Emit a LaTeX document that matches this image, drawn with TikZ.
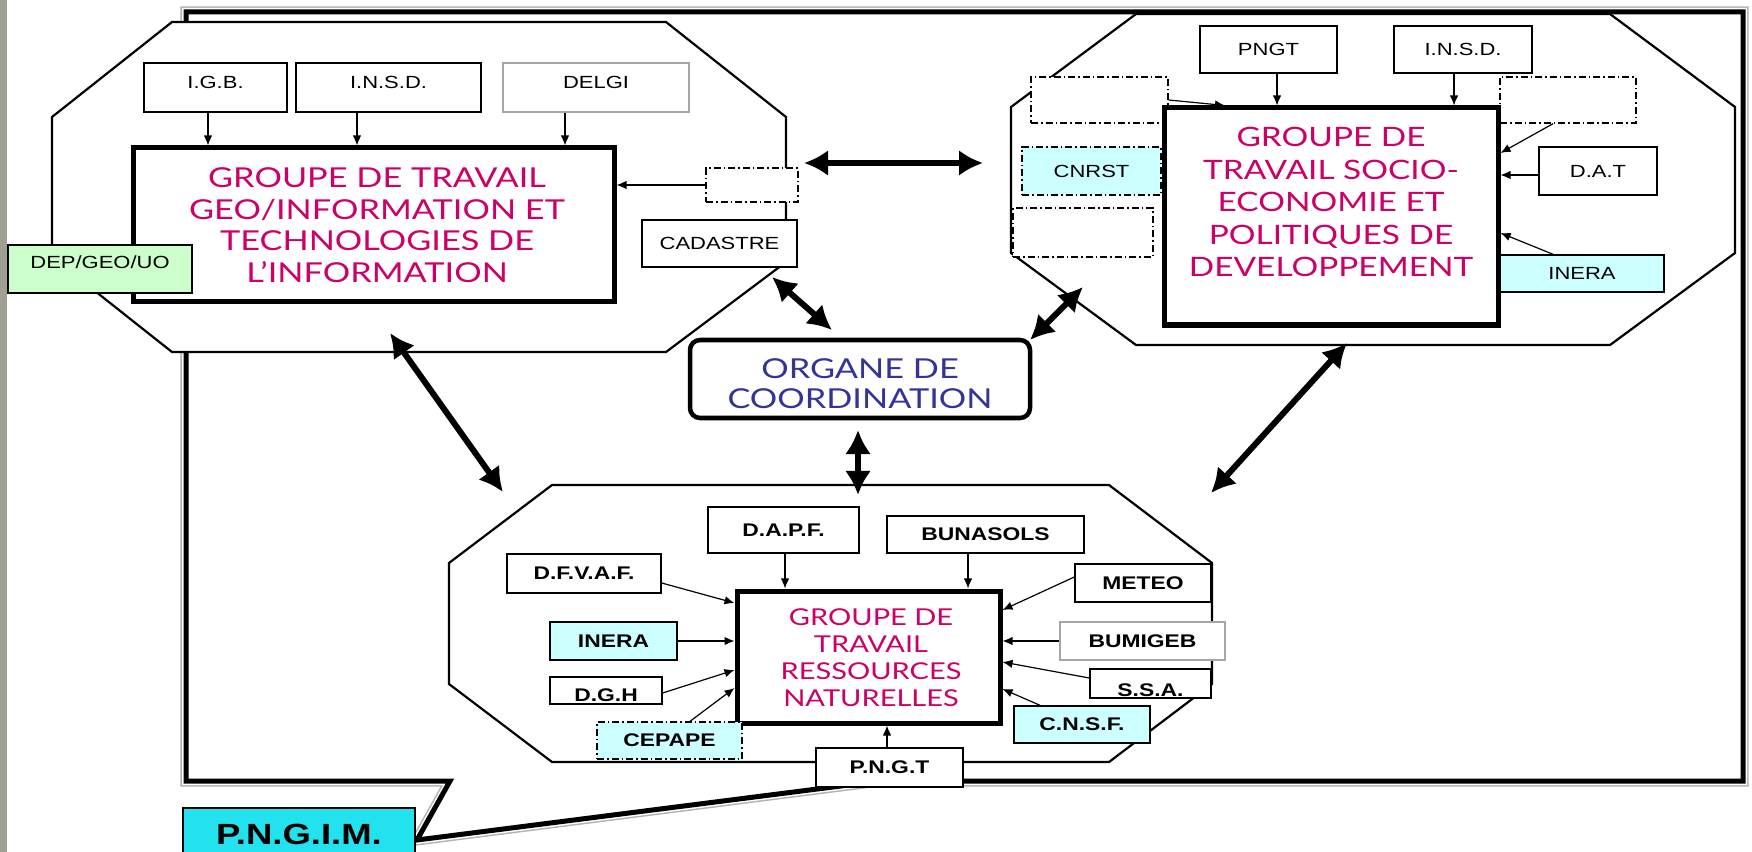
\documentclass[tikz,border=0pt]{standalone}
\usepackage{fontspec}
\setmainfont{Liberation Sans}[FakeStretch=1.25]
\newfontfamily\grpfont{Lato}[FakeStretch=1.25]
\usetikzlibrary{arrows.meta}
\definecolor{mag}{HTML}{CC0066}
\definecolor{blu}{HTML}{333399}
\definecolor{lcyan}{HTML}{CCFFFF}
\definecolor{pcyan}{HTML}{22E2EE}
\definecolor{lgreen}{HTML}{CCFFCC}
\definecolor{strip}{HTML}{A09F94}
\tikzset{
  lb/.style={draw, line width=0.014cm, fill=white, inner sep=0pt, font=\fontsize{5}{6}\selectfont},
  lbb/.style={lb, font=\fontsize{5.2}{6}\selectfont\bfseries},
  sz/.style 2 args={minimum width=#1*0.01cm, minimum height=#2*0.01cm},
  dd/.style={dash pattern=on 0.07cm off 0.03cm on 0.015cm off 0.03cm},
  grp/.style={draw, line width=0.05cm, fill=white, inner sep=0pt},
  gtxt/.style={align=center, text=mag, inner sep=0pt},
  oct/.style={draw, line width=0.022cm, fill=white, line join=miter},
  sa/.style={-{Latex[length=0.1cm,width=0.085cm]}, line width=0.012cm},
  ba/.style={{Latex[length=0.24cm,width=0.26cm]}-{Latex[length=0.24cm,width=0.26cm]}, line width=0.06cm},
}
\begin{document}
\begin{tikzpicture}[x=0.01cm,y=-0.01cm]
\useasboundingbox (0,0) rectangle (1752,852);
\fill[white] (0,0) rectangle (1752,852);
\fill[strip] (0,0) rectangle (7,852);
% speech-bubble frame
\draw[line width=0.11cm, gray!60, line join=miter] (186,12) -- (1743,12) -- (1743,781) -- (880,781) -- (417,840) -- (450,781) -- (186,781) -- cycle;
\draw[line width=0.08cm, white, line join=miter] (186,12) -- (1743,12) -- (1743,781) -- (880,781) -- (417,840) -- (450,781) -- (186,781) -- cycle;
\fill[white] (186,12) -- (1743,12) -- (1743,781) -- (880,781) -- (417,840) -- (450,781) -- (186,781) -- cycle;
\draw[line width=0.05cm, black, line join=miter] (186,12) -- (1743,12) -- (1743,781) -- (880,781) -- (417,840) -- (450,781) -- (186,781) -- cycle;
% octagons
\draw[oct] (172,22) -- (666,22) -- (786,117) -- (786,262) -- (666,352) -- (172,352) -- (52,257) -- (52,117) -- cycle;
\draw[oct] (1136,14) -- (1610,14) -- (1735,107) -- (1735,253) -- (1610,345) -- (1136,345) -- (1011,253) -- (1011,107) -- cycle;
\draw[oct] (552,485) -- (1109,485) -- (1212,563) -- (1212,684) -- (1109,762) -- (552,762) -- (449,684) -- (449,563) -- cycle;

% ---- left group
\node[lb, sz={143}{49}, text height=0.016cm, text depth=0pt] (igb) at (215.5,87.5) {I.G.B.};
\node[lb, sz={185}{49}, text height=0.016cm, text depth=0pt] (insdA) at (388.5,87.5) {I.N.S.D.};
\node[lb, draw=gray!70, sz={186}{49}, text height=0.016cm, text depth=0pt] (delgi) at (596,87.5) {DELGI};
\node[grp, sz={481}{154}] (grpL) at (373.5,225) {};
\node[gtxt, font=\grpfont\fontsize{7.8}{9}\selectfont] (grpLt) at (377,225) {GROUPE DE TRAVAIL\\GEO/INFORMATION ET\\TECHNOLOGIES DE\\L’INFORMATION};
\node[lb, dd, sz={92}{34}] (dashL) at (752,185) {};
\node[lb, sz={155}{47}] (cad) at (719.5,243.5) {CADASTRE};
\node[lb, fill=lgreen, sz={184}{48}, text height=0pt, text depth=0.014cm] (dep) at (100,269) {DEP/GEO/UO};

% ---- right group
\node[lb, dd, sz={137}{46}] (dr1) at (1099.5,100) {};
\node[lb, dd, sz={136}{46}] (dr2) at (1568,100) {};
\node[lb, dd, fill=lcyan, sz={139}{48}] (cnrst) at (1091.5,171) {CNRST};
\node[lb, dd, sz={140}{49}] (dr3) at (1083,232.5) {};
\node[lb, sz={137}{47}] (pngtA) at (1268.5,49.5) {PNGT};
\node[lb, sz={138}{47}] (insdB) at (1463,49.5) {I.N.S.D.};
\node[grp, sz={334}{217}] (grpR) at (1331,216.5) {};
\node[gtxt, font=\grpfont\fontsize{7.6}{9.25}\selectfont] (grpRt) at (1331,202) {GROUPE DE\\TRAVAIL SOCIO-\\ECONOMIE ET\\POLITIQUES DE\\DEVELOPPEMENT};
\node[lb, sz={118}{48}] (dat) at (1598,171) {D.A.T};
\node[lb, fill=lcyan, sz={164}{37}] (ineraA) at (1582,273.5) {INERA};

% ---- coordination
\node[draw, line width=0.045cm, rounded corners=0.1cm, fill=white, sz={340}{78}] (org) at (860,379) {};
\node[text=blu, align=center, inner sep=0pt, font=\grpfont\fontsize{7.8}{8.6}\selectfont] (orgt) at (860,384) {ORGANE DE\\COORDINATION};

% ---- bottom group
\node[grp, sz={263}{132}] (grpB) at (868.5,657) {};
\node[gtxt, font=\grpfont\fontsize{6.6}{7.7}\selectfont] (grpBt) at (871,657.5) {GROUPE DE\\TRAVAIL\\RESSOURCES\\NATURELLES};
\node[lbb, sz={151}{46}] (dapf) at (783.5,530) {D.A.P.F.};
\node[lbb, sz={197}{37}] (buna) at (985.5,534.5) {BUNASOLS};
\node[lbb, sz={154}{39}] (dfvaf) at (584,573.5) {D.F.V.A.F.};
\node[lbb, sz={136}{38}] (meteo) at (1143,583) {METEO};
\node[lbb, fill=lcyan, sz={127}{38}] (ineraB) at (613.5,641) {INERA};
\node[lbb, draw=gray!70, sz={165}{38}] (bumi) at (1142.5,641) {BUMIGEB};
\node[lbb, sz={112}{27}, text height=0.213cm, text depth=0pt] (dgh) at (606,690.5) {D.G.H};
\node[lbb, sz={121}{29}, text height=0.253cm, text depth=0pt] (ssa) at (1150.5,683.5) {S.S.A.};
\node[lbb, dd, fill=lcyan, sz={145}{37}] (cepape) at (669.5,740.5) {CEPAPE};
\node[lbb, fill=lcyan, sz={136}{37}] (cnsf) at (1082,724.5) {C.N.S.F.};
\node[lbb, sz={147}{39}] (pngtB) at (889.5,767.5) {P.N.G.T};

\node[draw, line width=0.014cm, fill=pcyan, inner sep=0pt, sz={232}{52}, font=\fontsize{8.3}{10}\selectfont\bfseries] (pngim) at (299,834) {P.N.G.I.M.};

% ---- small arrows
\draw[sa] (igb.south -| 208,0) -- (grpL.north -| 208,0);
\draw[sa] (insdA.south -| 357,0) -- (grpL.north -| 357,0);
\draw[sa] (delgi.south -| 565,0) -- (grpL.north -| 565,0);
\draw[sa] (dashL.west) -- (grpL.east |- dashL.west);
\draw[sa] (pngtA.south -| 1277,0) -- (grpR.north -| 1277,0);
\draw[sa] (insdB.south -| 1454,0) -- (grpR.north -| 1454,0);
\draw[sa] (dr1.east |- 0,100) -- (grpR.north -| 1225,0);
\draw[sa] (dr2.south -| 1553,0) -- (grpR.east |- 0,153);
\draw[sa] (dat.west |- 0,175) -- (grpR.east |- 0,175);
\draw[sa] (ineraA.north -| 1553,0) -- (grpR.east |- 0,233);
\draw[sa] (dapf.south -| 785,0) -- (grpB.north -| 785,0);
\draw[sa] (buna.south -| 968,0) -- (grpB.north -| 968,0);
\draw[sa] (dfvaf.east |- 0,583) -- (grpB.west |- 0,603);
\draw[sa] (ineraB.east) -- (grpB.west |- ineraB.east);
\draw[sa] (dgh.east |- 0,693) -- (grpB.west |- 0,670);
\draw[sa] (cepape.north -| 690,0) -- (grpB.west |- 0,688);
\draw[sa] (meteo.west |- 0,577) -- (grpB.east |- 0,610);
\draw[sa] (bumi.west) -- (grpB.east |- bumi.west);
\draw[sa] (ssa.west |- 0,678) -- (grpB.east |- 0,662);
\draw[sa] (cnsf.north -| 1040,0) -- (grpB.east |- 0,689);
\draw[sa] (pngtB.north -| 887,0) -- (grpB.south -| 887,0);

% ---- big double arrows
\coordinate (tA) at (804,163); \coordinate (tB) at (983,163);
\coordinate (cA) at (772,277); \coordinate (cB) at (832,330);
\coordinate (rA) at (1030,340); \coordinate (rB) at (1083,287);
\coordinate (lA) at (390,333); \coordinate (lB) at (503,492);
\coordinate (qA) at (1347,343); \coordinate (qB) at (1211,493);
\coordinate (vA) at (858,430); \coordinate (vB) at (858,495);
\draw[ba] (tA) -- (tB);
\draw[ba] (cA) -- (cB);
\draw[ba] (rA) -- (rB);
\draw[ba] (lA) -- (lB);
\draw[ba] (qA) -- (qB);
\draw[ba] (vA) -- (vB);
\end{tikzpicture}
\end{document}
